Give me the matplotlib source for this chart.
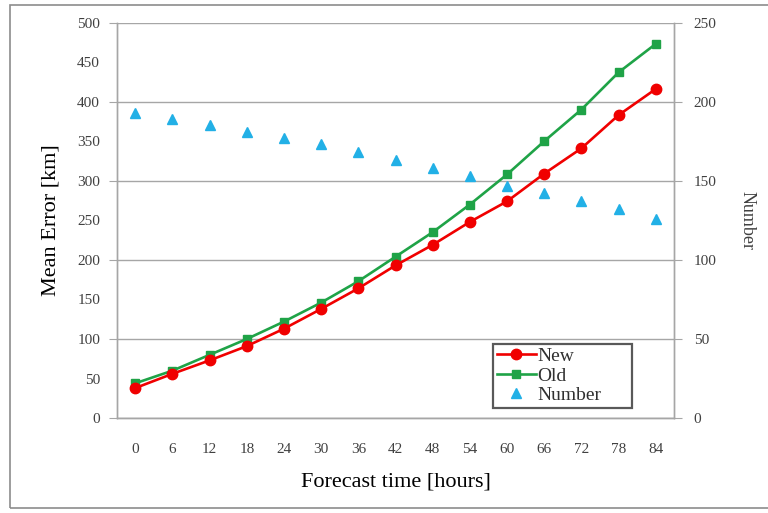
import matplotlib
matplotlib.use("Agg")
import matplotlib.pyplot as plt
from matplotlib.patches import Rectangle
from matplotlib.ticker import FixedLocator, FormatStrFormatter

plt.rcParams['font.family'] = ['Liberation Serif', 'DejaVu Serif']

hours = ["0", "6", "12", "18", "24", "30", "36", "42", "48", "54", "60", "66", "72", "78", "84"]
new_err = [38, 56, 73, 91, 113, 138, 164, 193, 219, 248, 274, 309, 341, 383, 416]
old_err = [44, 60, 80, 100, 122, 146, 173, 204, 235, 270, 308, 350, 390, 437, 473]
number = [193, 189, 185, 181, 177, 173, 168, 163, 158, 153, 147, 142, 137, 132, 126]

fig = plt.figure(figsize=(7.68, 5.13), dpi=100)
fig.patches.append(Rectangle((0.013, 0.01), 1.0, 0.98, transform=fig.transFigure,
                             fill=False, edgecolor='#8c8c8c', linewidth=1.2))

ax = fig.add_axes([0.152, 0.185, 0.726, 0.771])
ax2 = ax.twinx()

x = list(range(len(hours)))
grid_c = '#a6a6a6'
tick_c = '#404040'

ax.plot(x, old_err, color='#1fa347', marker='s', markersize=6, linewidth=1.9,
        label='Old', zorder=3)
ax.plot(x, new_err, color='#f00000', marker='o', markersize=7.5, linewidth=1.9,
        label='New', zorder=4)
ax2.plot(x, number, linestyle='none', marker='^', markersize=7, color='#22b0e6',
         label='Number', zorder=5)

ax.set_xlim(-0.5, len(hours) - 0.5)
ax.set_ylim(0, 500)
ax2.set_ylim(0, 250)

ax.yaxis.set_major_locator(FixedLocator([0, 100, 200, 300, 400, 500]))
ax.yaxis.set_minor_locator(FixedLocator([50, 150, 250, 350, 450]))
ax2.yaxis.set_major_locator(FixedLocator([0, 50, 100, 150, 200, 250]))

ax.set_xticks(x)
ax.set_xticklabels(hours)
ax.yaxis.set_minor_formatter(FormatStrFormatter('%d'))

ax.grid(axis='y', which='major', color=grid_c, linewidth=1.0)
ax.set_axisbelow(True)

ax.tick_params(axis='y', which='major', length=6, color=grid_c, labelsize=11,
               labelcolor=tick_c, pad=6)
ax.tick_params(axis='y', which='minor', length=0, labelsize=11,
               labelcolor=tick_c, pad=12)
ax.tick_params(axis='x', length=0, labelsize=11, labelcolor=tick_c, pad=18)
ax2.tick_params(axis='y', length=6, color=grid_c, labelsize=11, labelcolor=tick_c, pad=8)

for a in (ax, ax2):
    for s in a.spines.values():
        s.set_color(grid_c)
        s.set_linewidth(1.0)
ax.spines['top'].set_visible(False)
ax2.spines['top'].set_visible(False)

ax.set_ylabel('Mean Error [km]', fontsize=16, labelpad=12)
ax.set_xlabel('Forecast time [hours]', fontsize=16, labelpad=12)
ax2.set_ylabel('Number', fontsize=13, rotation=270, labelpad=28, color='#404040')

h1, l1 = ax.get_legend_handles_labels()
h2, l2 = ax2.get_legend_handles_labels()
handles = [h1[1], h1[0], h2[0]]
labels = [l1[1], l1[0], l2[0]]
leg = ax2.legend(handles, labels, loc='lower left',
                 bbox_to_anchor=(493 / 768, 1 - 408 / 513, 139 / 768, 78 / 513),
                 bbox_transform=fig.transFigure, mode='expand',
                 fontsize=14, frameon=True, fancybox=False, borderpad=0.2,
                 labelspacing=0.1, handlelength=2.0, handletextpad=0.1,
                 borderaxespad=0)
leg.get_frame().set_edgecolor('#303030')
leg.get_frame().set_linewidth(1.6)
for t in leg.get_texts():
    t.set_color('#303030')

fig.savefig('out.png', dpi=100)
